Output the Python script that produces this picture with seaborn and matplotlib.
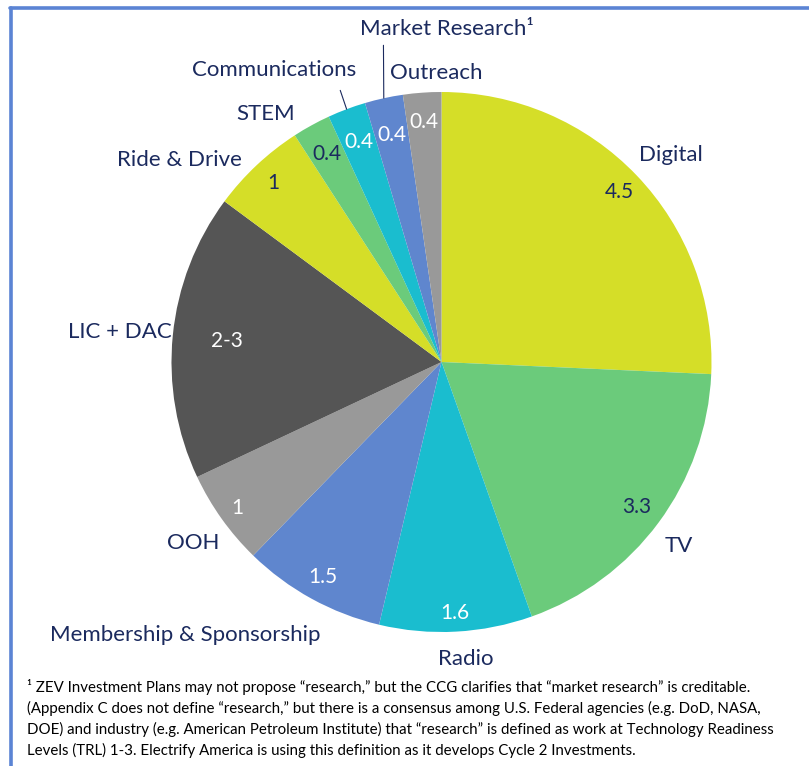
import seaborn as sns
import matplotlib.pyplot as plt
from matplotlib.lines import Line2D
import numpy as np

categories = ["Digital", "TV", "Radio", "Membership & Sponsorship", "OOH", "LIC + DAC",
              "Ride & Drive", "STEM", "Communications", "Market Research\u00b9", "Outreach"]
values = [4.5, 3.3, 1.6, 1.5, 1, 3, 1, 0.4, 0.4, 0.4, 0.4]
value_labels = ["4.5", "3.3", "1.6", "1.5", "1", "2-3", "1", "0.4", "0.4", "0.4", "0.4"]
colors = ["#D5DE28", "#6BCB7B", "#1ABDCF", "#5F86CE", "#999999", "#555555",
          "#D5DE28", "#6BCB7B", "#1ABDCF", "#5F86CE", "#999999"]

footnote = ("\u00b9 ZEV Investment Plans may not propose \u201cresearch,\u201d but the CCG clarifies that \u201cmarket research\u201d is creditable.\n"
            "(Appendix C does not define \u201cresearch,\u201d but there is a consensus among U.S. Federal agencies (e.g. DoD, NASA,\n"
            "DOE) and industry (e.g. American Petroleum Institute) that \u201cresearch\u201d is defined as work at Technology Readiness\n"
            "Levels (TRL) 1-3. Electrify America is using this definition as it develops Cycle 2 Investments.")

navy = "#1B2A5E"
value_colors = [navy, navy, "white", "white", "white", "white", navy, navy, "white", "white", "white"]
value_dist = [0.91, 0.90, 0.93, 0.91, 0.93, 0.80, 0.91, 0.88, 0.87, 0.86, 0.89]
label_pos = [(0.85, 0.767), (0.88, -0.68), (0.09, -1.10), (-0.95, -1.01), (-0.92, -0.67),
             (-1.19, 0.11), (-0.97, 0.75), (-0.65, 0.92), (-0.62, 1.08), (0.02, 1.235), (-0.02, 1.07)]
leader_start = {8: (-0.375, 1.006), 9: (-0.215, 1.173)}

sns.set_style("white")
plt.rcParams["font.family"] = ["Lato", "DejaVu Sans"]

fig = plt.figure(figsize=(8.09, 7.66), dpi=100)
cx, cy, r = 441.5, 362, 270
ax = fig.add_axes([(cx - r) / 809, (766 - cy - r) / 766, 2 * r / 809, 2 * r / 766])
wedges, _ = ax.pie(values, colors=colors, startangle=90, counterclock=False,
                   wedgeprops=dict(linewidth=0))
ax.set_xlim(-1, 1)
ax.set_ylim(-1, 1)
ax.set_aspect("equal")
ax.axis("off")

for i, w in enumerate(wedges):
    theta = np.deg2rad((w.theta1 + w.theta2) / 2)
    d = value_dist[i]
    ax.text(d * np.cos(theta), d * np.sin(theta), value_labels[i], ha="center", va="center",
            fontsize=15, color=value_colors[i])
    lx, ly = label_pos[i]
    ax.text(lx, ly, categories[i], ha="center", va="center", fontsize=16, color=navy, clip_on=False)
    if i in leader_start:
        ax.annotate("", xy=(np.cos(theta), np.sin(theta)), xytext=leader_start[i],
                    arrowprops=dict(arrowstyle="-", color=navy, lw=0.8, shrinkA=0, shrinkB=0),
                    annotation_clip=False)

fig.text(27 / 809, 1 - 679 / 766, footnote, ha="left", va="top", fontsize=10.85,
         color="black", linespacing=1.5)

# frame on the left and top edges
fig.add_artist(Line2D([11 / 809, 11 / 809], [0, 1 - 7.5 / 766], color="#5B84D4", lw=2.6,
                      transform=fig.transFigure))
fig.add_artist(Line2D([9.7 / 809, 1], [1 - 7.5 / 766, 1 - 7.5 / 766], color="#5B84D4", lw=2.6,
                      transform=fig.transFigure))

fig.savefig("out.png", dpi=100)
